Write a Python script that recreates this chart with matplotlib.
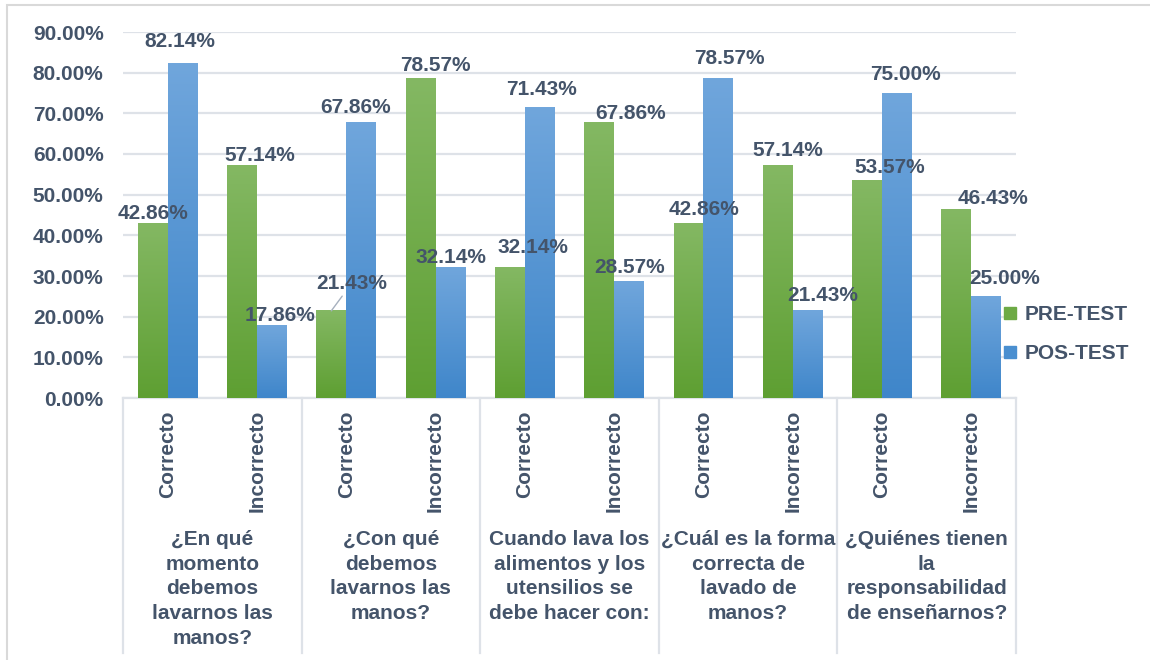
import numpy as np
import matplotlib.pyplot as plt
from matplotlib.colors import LinearSegmentedColormap
from matplotlib.patches import Rectangle
from matplotlib.lines import Line2D

plt.rcParams['font.family'] = ['Liberation Sans', 'DejaVu Sans']
plt.rcParams['font.weight'] = 'bold'

# data
questions = ['¿En qué\nmomento\ndebemos\nlavarnos las\nmanos?',
             '¿Con qué\ndebemos\nlavarnos las\nmanos?',
             'Cuando lava los\nalimentos y los\nutensilios se\ndebe hacer con:',
             '¿Cuál es la forma\ncorrecta de\nlavado de\nmanos?',
             '¿Quiénes tienen\nla\nresponsabilidad\nde enseñarnos?']
answers = ['Correcto', 'Incorrecto']
pre_test = [42.86, 57.14, 21.43, 78.57, 32.14, 67.86, 42.86, 57.14, 53.57, 46.43]
pos_test = [82.14, 17.86, 67.86, 32.14, 71.43, 28.57, 78.57, 21.43, 75.00, 25.00]
series_names = ['PRE-TEST', 'POS-TEST']

# label offsets (pixels) as placed in the original
pre_offsets = [(0, 10), (18, 10), (20, 27), (15, 13), (23, 20), (31, 9), (16, 14), (10, 15), (23, 13), (37, 11)]
pos_offsets = [(-3, 22), (8, 10), (-6, 15), (0, 10), (2, 18), (0, 14), (11, 20), (15, 15), (8, 18), (18, 18)]

text_color = '#44546A'
grid_color = '#DEE2E8'
green_cmap = LinearSegmentedColormap.from_list('g', ['#5E9F32', '#84B863'])
blue_cmap = LinearSegmentedColormap.from_list('b', ['#3F86CA', '#70A6DC'])

fig = plt.figure(figsize=(11.5, 6.6), dpi=100)
W, H = 1150, 660
ax_left, ax_right, ax_bottom, ax_top = 123, 1016, 398, 32
ax = fig.add_axes([ax_left / W, 1 - ax_bottom / H, (ax_right - ax_left) / W, (ax_bottom - ax_top) / H])

n = len(pre_test)
x = np.arange(n)
width = 0.335
bars_pre = ax.bar(x - width / 2, [v / 100 for v in pre_test], width, color='none', zorder=3)
bars_pos = ax.bar(x + width / 2, [v / 100 for v in pos_test], width, color='none', zorder=3)

grad = np.linspace(0, 1, 256).reshape(-1, 1)
for bars, cmap in [(bars_pre, green_cmap), (bars_pos, blue_cmap)]:
    for b in bars:
        x0, w, h = b.get_x(), b.get_width(), b.get_height()
        ax.imshow(grad, extent=[x0, x0 + w, 0, h], origin='lower', cmap=cmap,
                  aspect='auto', zorder=3)

ax.set_xlim(-0.5, n - 0.5)
ax.set_ylim(0, 0.9)

for bars, vals, offs in [(bars_pre, pre_test, pre_offsets), (bars_pos, pos_test, pos_offsets)]:
    for b, v, (dx, dy) in zip(bars, vals, offs):
        xc = b.get_x() + b.get_width() / 2
        props = None
        if dy > 25:
            props = dict(arrowstyle='-', color='#A6B0BE', lw=1, shrinkA=0, shrinkB=0)
        ax.annotate(f'{v:.2f}%', (xc, v / 100), xytext=(dx, dy), textcoords='offset pixels',
                    ha='center', va='center', fontsize=15, color=text_color,
                    fontweight='bold', zorder=5, arrowprops=props)

ax.set_yticks(np.arange(0, 0.91, 0.1))
ax.set_yticklabels([f'{t * 100:.2f}%' for t in np.arange(0, 0.91, 0.1)])
ax.tick_params(axis='y', length=0, pad=14, labelsize=15, labelcolor=text_color)
ax.set_xticks([])
ax.yaxis.grid(True, color=grid_color, lw=1.6, zorder=0)
ax.set_axisbelow(True)
for s in ['left', 'right', 'top']:
    ax.spines[s].set_visible(False)
ax.spines['bottom'].set_color(grid_color)
ax.spines['bottom'].set_linewidth(1.6)

# two-level category axis
ax_h = ax_bottom - ax_top
sep_bottom = -(653 - ax_bottom) / ax_h
trans = ax.get_xaxis_transform()
for k in range(len(questions) + 1):
    ax.plot([2 * k - 0.5, 2 * k - 0.5], [0, sep_bottom], transform=trans, color=grid_color,
            lw=1.6, clip_on=False)

for i in range(n):
    ax.text(i, -(410 - ax_bottom) / ax_h, answers[i % 2], transform=trans, rotation=90,
            ha='center', va='top', fontsize=15, color=text_color, fontweight='bold')

for k, q in enumerate(questions):
    ax.text(2 * k + 0.5, -(530 - ax_bottom) / ax_h, q, transform=trans, ha='center', va='top',
            fontsize=15, color=text_color, fontweight='bold', linespacing=1.38)

handles = [Line2D([], [], marker='s', ls='none', markersize=8, color='#6DAA45'),
           Line2D([], [], marker='s', ls='none', markersize=8, color='#4A8FD0')]
leg = fig.legend(handles, series_names, loc='center left', bbox_to_anchor=(992 / W, 1 - 334 / H),
                 frameon=False, fontsize=15, labelcolor=text_color, handlelength=0.7,
                 handletextpad=0.35, labelspacing=0.95, borderpad=0)
for t in leg.get_texts():
    t.set_fontweight('bold')

fig.add_artist(Rectangle((7 / W, -0.1), 1.5, 1.1 - 5 / H, transform=fig.transFigure,
                         fill=False, edgecolor='#D9D9D9', lw=1.5))

fig.savefig('out.png', dpi=100)
